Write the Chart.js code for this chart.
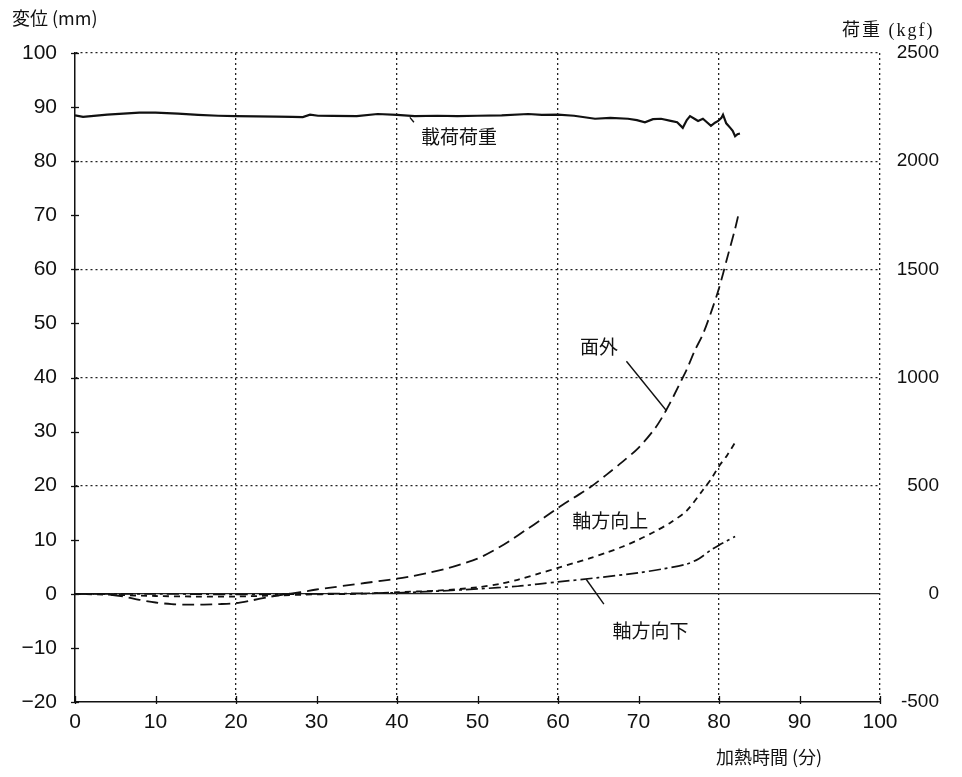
<!DOCTYPE html>
<html><head><meta charset="utf-8">
<script src="https://cdn.jsdelivr.net/npm/chart.js@4.4.1/dist/chart.umd.min.js"></script>
<style>html,body{margin:0;padding:0;background:#fff;}canvas{display:block}</style>
</head><body>
<canvas id="c" width="962" height="777"></canvas>
<script>
// ---- tick labels ----
const timeTicks = [0,10,20,30,40,50,60,70,80,90,100];
const dispTicks = [-20,-10,0,10,20,30,40,50,60,70,80,90,100];
const loadTicks = [-500,0,500,1000,1500,2000,2500];

// ---- series: 載荷荷重 (kgf, right axis) ----
const loadTime = [0,1,2,4,6,8,10,12.8,15.3,17.8,20,22.5,25,27,28.3,29.2,30.2,32,35,37.6,40,42.2,45,47.5,50,53,56.3,58,60,62,64.6,66.5,68.7,69.8,70.8,71.8,72.8,74,74.8,75.5,76,76.4,77,77.4,78,78.5,79,79.5,79.9,80.3,80.5,80.9,81.4,81.7,82,82.3,82.6];
const loadKgf  = [2212,2205,2208,2215,2220,2224,2224,2220,2214,2210,2208,2207,2206,2205,2204,2215,2210,2209,2208,2218,2214,2208,2210,2208,2210,2212,2218,2214,2215,2210,2196,2200,2196,2190,2180,2194,2196,2186,2180,2154,2190,2208,2195,2186,2196,2180,2163,2178,2186,2200,2215,2175,2154,2140,2115,2125,2128];

// ---- series: 面外 (mm) ----
const outTime = [0,2,4,6,8,10,12,14,16,18,20,22,24,26,28,30,32,34,36,38,40,42,44,46,48,50,52,54,56,58,60,62,64,66,68,70,72,73,74,75,76,77,78,79,80,81,82,82.4];
const outMm   = [0,0,-0.1,-0.5,-1.1,-1.6,-1.9,-2.0,-2.0,-1.9,-1.7,-1.2,-0.6,-0.1,0.3,0.8,1.2,1.6,2.0,2.4,2.8,3.3,3.9,4.6,5.5,6.5,8.0,9.8,11.8,13.8,15.9,17.8,19.7,22.0,24.4,27.0,30.5,32.8,35.5,38.5,41.5,45.0,48.0,52.0,56.5,62.0,67.5,70.0];

// ---- series: 軸方向上 (mm) ----
const upTime = [0,5,10,15,20,25,30,35,40,45,50,53,55,57.5,60,62,64,66,68,70,72,74,76,78,79,80,81,82];
const upMm   = [0,-0.2,-0.4,-0.5,-0.5,-0.3,-0.1,0,0.3,0.6,1.2,1.9,2.6,3.7,4.8,5.7,6.6,7.6,8.7,10.0,11.5,13.2,15.4,19.2,21.2,23.6,25.6,28.0];

// ---- series: 軸方向下 (mm) ----
const downTime = [0,10,20,30,40,45,50,55,57.5,60,65,70,73,76,77.5,79,80,81,82];
const downMm   = [0,0,-0.1,0,0.2,0.5,0.9,1.4,1.8,2.2,3.0,3.9,4.6,5.5,6.5,8.1,9.0,9.8,10.6];

// ---- text ----
const leftTitle = '変位 (mm)';
const rightTitle = '荷重 (kgf)';
const xTitle = '加熱時間 (分)';
const labelLoad = '載荷荷重', labelOut = '面外', labelUp = '軸方向上', labelDown = '軸方向下';

const pts = (xs, ys) => xs.map((x, i) => ({x: x, y: ys[i]}));
const CJK = '"Noto Sans CJK JP", sans-serif';

const extras = {
  id: 'extras',
  afterDraw(chart) {
    const {ctx, scales} = chart;
    const x = scales.x, y = scales.y;
    const L = chart.chartArea.left, B = chart.chartArea.bottom;
    ctx.save();
    ctx.strokeStyle = '#111';
    ctx.lineWidth = 1.3;
    dispTicks.forEach(v => {
      const py = Math.round(y.getPixelForValue(v)) + 0.5;
      ctx.beginPath(); ctx.moveTo(L - 4, py); ctx.lineTo(L + 4, py); ctx.stroke();
    });
    timeTicks.forEach(v => {
      const px = Math.round(x.getPixelForValue(v)) + 0.5;
      ctx.beginPath(); ctx.moveTo(px, B - 6); ctx.lineTo(px, B + 2); ctx.stroke();
    });
    const leader = (ax, ay, bx, by) => {
      ctx.beginPath();
      ctx.moveTo(x.getPixelForValue(ax), y.getPixelForValue(ay));
      ctx.lineTo(x.getPixelForValue(bx), y.getPixelForValue(by));
      ctx.stroke();
    };
    ctx.lineWidth = 1.4;
    leader(68.5, 43, 73.5, 33.8);
    leader(63.5, 2.7, 65.7, -1.9);
    leader(41.6, 88.1, 42.1, 87.2);
    ctx.fillStyle = '#111';
    ctx.textAlign = 'center'; ctx.textBaseline = 'middle';
    const label = (t, dx, dy, size) => {
      ctx.font = size + 'px ' + CJK;
      ctx.fillText(t, x.getPixelForValue(dx), y.getPixelForValue(dy));
    };
    label(labelLoad, 47.7, 84.6, 19);
    label(labelOut, 65.1, 45.7, 19);
    label(labelUp, 66.5, 13.5, 19);
    label(labelDown, 71.5, -6.8, 19);
    ctx.textAlign = 'left';
    ctx.font = '18px ' + CJK;
    ctx.fillText(leftTitle, 12, 18);
    ctx.font = '18px "Liberation Serif", ' + CJK;
    if ('letterSpacing' in ctx) ctx.letterSpacing = '2px';
    ctx.fillText(rightTitle, 842, 31);
    if ('letterSpacing' in ctx) ctx.letterSpacing = '0px';
    ctx.font = '18px ' + CJK;
    ctx.fillText(xTitle, 716, 757);
    ctx.restore();
  }
};

new Chart(document.getElementById('c'), {
  type: 'line',
  data: {
    datasets: [
      {label: labelLoad, data: pts(loadTime, loadKgf), yAxisID: 'y1', borderColor: '#111', borderWidth: 2.2, pointRadius: 0, tension: 0},
      {label: labelOut, data: pts(outTime, outMm), yAxisID: 'y', borderColor: '#111', borderWidth: 1.8, borderDash: [12, 6], pointRadius: 0, tension: 0.3},
      {label: labelUp, data: pts(upTime, upMm), yAxisID: 'y', borderColor: '#111', borderWidth: 1.8, borderDash: [6, 5], pointRadius: 0, tension: 0.3},
      {label: labelDown, data: pts(downTime, downMm), yAxisID: 'y', borderColor: '#111', borderWidth: 1.7, borderDash: [12, 4, 3, 4], pointRadius: 0, tension: 0.3}
    ]
  },
  options: {
    responsive: false,
    animation: false,
    events: [],
    layout: {padding: {top: 53, right: 23, bottom: 0, left: 0}},
    plugins: {legend: {display: false}, tooltip: {enabled: false}, title: {display: false}},
    scales: {
      x: {
        type: 'linear', min: 0, max: 100,
        afterBuildTicks: s => { s.ticks = timeTicks.map(v => ({value: v})); },
        afterFit: s => { s.height = 75; },
        grid: {
          color: c => (c.tick && c.tick.value > 0 && c.tick.value % 20 === 0) ? '#222' : 'rgba(0,0,0,0)',
          lineWidth: 1.3, drawTicks: false
        },
        border: {display: true, color: '#111', width: 1.5, dash: [2, 3]},
        ticks: {color: '#111', padding: 8, maxRotation: 0, autoSkip: false, font: {family: '"Liberation Sans", Arial, sans-serif', size: 21},
          callback: v => String(v)}
      },
      y: {
        type: 'linear', position: 'left', min: -20, max: 100,
        afterBuildTicks: s => { s.ticks = dispTicks.map(v => ({value: v})); },
        afterFit: s => { s.width = 75; },
        grid: {
          color: c => (c.tick && c.tick.value > -20 && c.tick.value % 20 === 0) ? '#222' : 'rgba(0,0,0,0)',
          lineWidth: c => (c.tick && c.tick.value === 0) ? 1.2 : 1.3, drawTicks: false
        },
        border: {display: true, color: '#111', width: 1.5, dash: c => (c.tick && c.tick.value === 0) ? [] : [2, 3]},
        ticks: {color: '#111', padding: 18, autoSkip: false, font: {family: '"Liberation Sans", Arial, sans-serif', size: 21},
          callback: v => (v < 0 ? '\u2212' + Math.abs(v) : String(v))}
      },
      y1: {
        type: 'linear', position: 'right', min: -500, max: 2500,
        afterBuildTicks: s => { s.ticks = loadTicks.map(v => ({value: v})); },
        afterFit: s => { s.width = 59; },
        grid: {drawOnChartArea: false, drawTicks: false},
        border: {display: false},
        ticks: {color: '#111', crossAlign: 'far', autoSkip: false, padding: 0,
          font: {family: '"Liberation Sans Narrow", "Liberation Sans", sans-serif', size: 19},
          callback: v => String(v)}
      }
    }
  },
  plugins: [extras]
});
</script>
</body></html>
